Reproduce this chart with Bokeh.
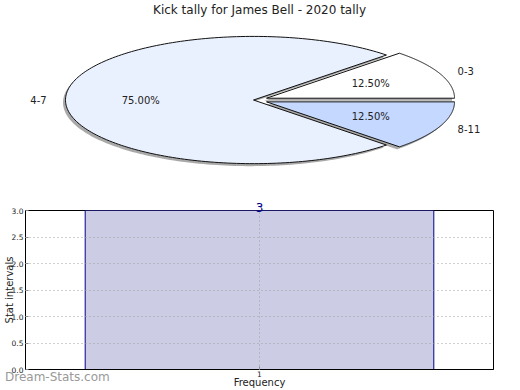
import numpy as np
from bokeh.plotting import figure
from bokeh.layouts import column
from bokeh.models import (ColumnDataSource, Range1d, FixedTicker, PrintfTickFormatter, Div)
from bokeh.core.properties import value
from bokeh.embed import file_html
from bokeh.resources import INLINE

# ---------------- data ----------------
title_text = "Kick tally for James Bell - 2020 tally"
pie_labels = ["0-3", "4-7", "8-11"]
pie_values = [1, 6, 1]
pie_explode = [0.075, 0.0, 0.075]
pie_colors = ["#FFFFFF", "#EAF1FE", "#C5D8FF"]

bar_categories = [1]
bar_values = [3]
bar_tick_labels = ["1"]
y_ticks = [0.0, 0.5, 1.0, 1.5, 2.0, 2.5, 3.0]
watermark = "Dream-Stats.com"

FONT = "DejaVu Sans"

# ---------------- layout constants (page pixels) ----------------
W = 520
TOP = -3                      # page y of the column top
PIE_H = 193
TITLE_H = 22
BL, BR = 25, 27               # left / right borders (frame from 25 to 493)
RX, RY = 188.0, 64.0          # pixel size of unit radius in x / y
CX, CY = 253.0, 99.0          # pixel center of the pie (page coords)
frame_top = TOP + TITLE_H
frame_h = PIE_H - TITLE_H
cy_frame = CY - frame_top

pie = figure(width=W, height=PIE_H, output_backend="svg", toolbar_location=None,
             x_range=Range1d(-(CX - BL) / RX, (W - BR - CX) / RX),
             y_range=Range1d(-(frame_h - cy_frame) / RY, cy_frame / RY),
             min_border_left=BL, min_border_right=BR, min_border_top=0,
             min_border_bottom=0, title=title_text)
pie.axis.visible = False
pie.grid.visible = False
pie.outline_line_color = None
pie.title.align = "center"
pie.title.text_font = FONT
pie.title.text_font_size = "12px"
pie.title.text_font_style = "normal"
pie.title.text_color = "#222222"
pie.title.offset = 0
pie.title.standoff = 7

total = float(sum(pie_values))
fracs = [v / total for v in pie_values]
starts = np.cumsum([0] + fracs[:-1]) * 2 * np.pi
ends = np.cumsum(fracs) * 2 * np.pi

xs, ys, sxs, sys_ = [], [], [], []
lab_x, lab_y, lab_align, pct_x, pct_y, pct_txt = [], [], [], [], [], []
for lab, f, a0, a1, ex in zip(pie_labels, fracs, starts, ends, pie_explode):
    mid = (a0 + a1) / 2
    ox, oy = ex * np.cos(mid), ex * np.sin(mid)
    t = np.linspace(a0, a1, 200)
    px = np.concatenate([[ox], ox + np.cos(t), [ox]])
    py = np.concatenate([[oy], oy + np.sin(t), [oy]])
    xs.append(list(px)); ys.append(list(py))
    sxs.append(list(px - 2.5 / RX)); sys_.append(list(py - 2.5 / RY))
    lab_x.append(ox + 1.1 * np.cos(mid)); lab_y.append(oy + 1.1 * np.sin(mid))
    lab_align.append("left" if np.cos(mid) > 0 else "right")
    pct_x.append(ox + 0.6 * np.cos(mid)); pct_y.append(oy + 0.6 * np.sin(mid))
    pct_txt.append("%.2f%%" % (f * 100))

pie.patches(sxs, sys_, fill_color="#8C8C8C", fill_alpha=0.75, line_color=None)
pie.patches(xs, ys, fill_color=pie_colors, line_color="#111111", line_width=1)

lab_src = ColumnDataSource(dict(x=lab_x, y=lab_y, t=pie_labels, a=lab_align))
pie.text("x", "y", text="t", source=lab_src, text_align="a", text_baseline="middle",
         text_font=value(FONT), text_font_size="10px", text_color="#222222")
pct_src = ColumnDataSource(dict(x=pct_x, y=pct_y, t=pct_txt))
pie.text("x", "y", text="t", source=pct_src, text_align="center", text_baseline="middle",
         text_font=value(FONT), text_font_size="10px", text_color="#222222")

# ---------------- bar chart ----------------
BAR_H = 200
bar_w = 0.8
bar = figure(width=W, height=BAR_H, output_backend="svg", toolbar_location=None,
             x_range=Range1d(0.463, 1.537), y_range=Range1d(0, 3),
             min_border_left=BL, min_border_right=BR, min_border_top=20,
             min_border_bottom=21, title=str(bar_values[0]))
bsrc = ColumnDataSource(dict(x=bar_categories, top=bar_values))
bar.vbar(x="x", top="top", width=bar_w, source=bsrc, fill_color="#CCCCE5",
         line_color="#00008B", line_width=1)

# value label above the bar (outside the frame, so shown as a centred title)
bar.title.align = "center"
bar.title.text_font = FONT
bar.title.text_font_size = "12px"
bar.title.text_font_style = "normal"
bar.title.text_color = "#00008B"
bar.title.standoff = -2
bar.title.offset = 0

bar.outline_line_color = "black"
bar.outline_line_width = 1
bar.xaxis.ticker = FixedTicker(ticks=bar_categories)
bar.xaxis.major_label_overrides = {c: l for c, l in zip(bar_categories, bar_tick_labels)}
bar.yaxis.ticker = FixedTicker(ticks=y_ticks)
bar.yaxis.formatter = PrintfTickFormatter(format="%.1f")
for ax in (bar.xaxis, bar.yaxis):
    ax.axis_line_color = "black"
    ax.major_tick_in = 3
    ax.major_tick_out = 0
    ax.major_tick_line_color = "#888888"
    ax.minor_tick_line_color = None
    ax.major_label_text_font = FONT
    ax.major_label_text_font_size = "7.5px"
    ax.major_label_text_color = "#222222"
    ax.axis_label_text_font = FONT
    ax.axis_label_text_font_size = "10px"
    ax.axis_label_text_font_style = "normal"
    ax.axis_label_text_color = "#222222"
bar.yaxis.major_label_standoff = 2
bar.yaxis.axis_label = "Stat intervals"
bar.yaxis.axis_label_standoff = -6
bar.xaxis.major_label_standoff = 1
bar.xaxis.axis_label = "Frequency"
bar.xaxis.axis_label_standoff = -3

bar.ygrid.ticker = FixedTicker(ticks=y_ticks)
bar.xgrid.ticker = FixedTicker(ticks=bar_categories)
bar.grid.grid_line_color = "#A0A0A0"
bar.grid.grid_line_dash = "1 3"
bar.grid.grid_line_width = 1
bar.grid.level = "overlay"

mark = Div(text=watermark, height=14,
           styles={"margin-top": "-20px", "font-family": FONT, "font-size": "12px",
                   "color": "#999999", "line-height": "14px", "white-space": "nowrap"})

layout = column(pie, bar, mark, spacing=0,
                styles={"margin": "-3px 0px 0px 0px", "width": "520px"})

open("out.html", "w").write(file_html(layout, INLINE))
